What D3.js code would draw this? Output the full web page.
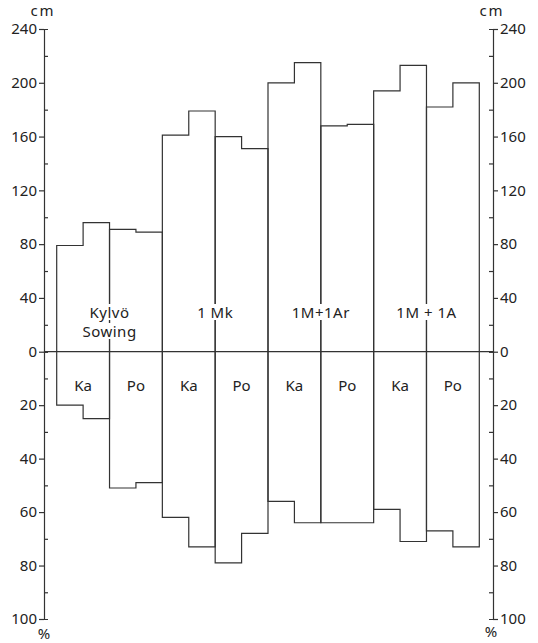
<!DOCTYPE html>
<html>
<head>
<meta charset="utf-8">
<script src="https://cdn.jsdelivr.net/npm/d3@7"></script>
<style>
  body { margin: 0; background: #fff; }
  text { font-family: "Noto Sans", "DejaVu Sans", sans-serif; fill: #222; }
  .axis path, .axis line { stroke: #333; stroke-width: 1.2; }
  .axis text { font-family: "Noto Sans", "DejaVu Sans", sans-serif; font-size: 15px; fill: #222; }
</style>
</head>
<body>
<div id="chart"></div>
<script>
// treatments, each with a Ka and a Po column
const treatments = [['Kylvö', 'Sowing'], ['1 Mk'], ['1M+1Ar'], ['1M + 1A']];
const species = ['Ka', 'Po'];

// shoot height, cm (left half / right half of each column)
const heightA = [79, 91, 161, 160, 200, 168, 194, 182];
const heightB = [96, 89, 179, 151, 215, 169, 213, 200];

// root depth, % (left half / right half of each column)
const depthA = [20, 51, 62, 79, 56, 64, 59, 67];
const depthB = [25, 49, 73, 68, 64, 64, 71, 73];

const cmMajor = [0, 40, 80, 120, 160, 200, 240];
const cmMinor = [20, 60, 100, 140, 180, 220];
const pctMajor = [20, 40, 60, 80, 100];
const pctMinor = [10, 30, 50, 70, 90];

const width = 538, height = 643;
const axisL = 44, axisR = 493;

const svg = d3.select('#chart').append('svg')
  .attr('width', width)
  .attr('height', height);

const cols = d3.range(heightA.length);
const x = d3.scaleBand().domain(cols).range([56.7, 479.3]).padding(0);
const yCm = d3.scaleLinear().domain([0, 240]).range([351.7, 29]);
const yPct = d3.scaleLinear().domain([0, 100]).range([351.7, 619]);

// axes: major ticks outwards with labels, minor ticks inwards
function drawAxis(side, pos) {
  const left = side === 'left';
  const g = svg.append('g').attr('class', 'axis').attr('transform', `translate(${pos},0)`);
  const outer = left ? d3.axisLeft : d3.axisRight;
  const inner = left ? d3.axisRight : d3.axisLeft;

  g.append('g').call(outer(yCm).tickValues(cmMajor).tickSize(5).tickSizeOuter(0).tickPadding(2))
    .call(s => s.select('.domain').remove());
  g.append('g').call(outer(yPct).tickValues(pctMajor).tickSize(5).tickSizeOuter(0).tickPadding(2))
    .call(s => s.select('.domain').remove());
  g.append('g').call(inner(yCm).tickValues(cmMinor).tickSize(4).tickSizeOuter(4).tickFormat(''));
  g.append('g').call(inner(yPct).tickValues(pctMinor).tickSize(4).tickSizeOuter(4).tickFormat(''));
  g.selectAll('path.domain').attr('fill', 'none');
}
drawAxis('left', axisL);
drawAxis('right', axisR);

svg.append('text').attr('x', 43).attr('y', 16).attr('text-anchor', 'middle')
  .attr('font-size', 15).attr('letter-spacing', 2).text('cm');
svg.append('text').attr('x', 492).attr('y', 16).attr('text-anchor', 'middle')
  .attr('font-size', 15).attr('letter-spacing', 2).text('cm');
svg.append('text').attr('x', 44).attr('y', 639).attr('text-anchor', 'middle')
  .attr('font-size', 15).text('%');
svg.append('text').attr('x', 491).attr('y', 637).attr('text-anchor', 'middle')
  .attr('font-size', 15).text('%');

// zero line
svg.append('line')
  .attr('x1', axisL).attr('x2', axisR)
  .attr('y1', yCm(0)).attr('y2', yCm(0))
  .attr('stroke', '#333').attr('stroke-width', 1.2);

// step outline for each column
const colPath = i => {
  const x0 = x(i), x1 = x(i) + x.bandwidth(), xm = x(i) + x.bandwidth() / 2;
  return `M${x0},${yPct(depthA[i])}L${x0},${yCm(heightA[i])}L${xm},${yCm(heightA[i])}` +
    `L${xm},${yCm(heightB[i])}L${x1},${yCm(heightB[i])}L${x1},${yPct(depthB[i])}` +
    `L${xm},${yPct(depthB[i])}L${xm},${yPct(depthA[i])}Z`;
};

svg.append('g').selectAll('path')
  .data(cols)
  .enter()
  .append('path')
  .attr('d', colPath)
  .attr('fill', 'none')
  .attr('stroke', '#333')
  .attr('stroke-width', 1.2);

// Ka / Po labels below zero
svg.append('g').selectAll('text')
  .data(cols)
  .enter()
  .append('text')
  .attr('x', i => x(i) + x.bandwidth() / 2)
  .attr('y', 391)
  .attr('text-anchor', 'middle')
  .attr('font-size', 15)
  .text(i => species[i % 2]);

// treatment labels, centred on the Ka|Po divider, with a white gap behind
const tg = svg.append('g').selectAll('g')
  .data(treatments)
  .enter()
  .append('g')
  .attr('transform', (d, k) => `translate(${x(2 * k + 1)},0)`);

tg.each(function(lines) {
  const g = d3.select(this);
  lines.forEach((t, j) => {
    const txt = g.append('text')
      .attr('x', 0)
      .attr('y', 318 + j * 19)
      .attr('text-anchor', 'middle')
      .attr('font-size', 15)
      .attr('letter-spacing', 0.5)
      .text(t);
    const b = txt.node().getBBox();
    g.insert('rect', 'text')
      .attr('x', -4).attr('y', b.y + 2)
      .attr('width', 8).attr('height', b.height - 4)
      .attr('fill', '#fff');
  });
});
</script>
</body>
</html>
